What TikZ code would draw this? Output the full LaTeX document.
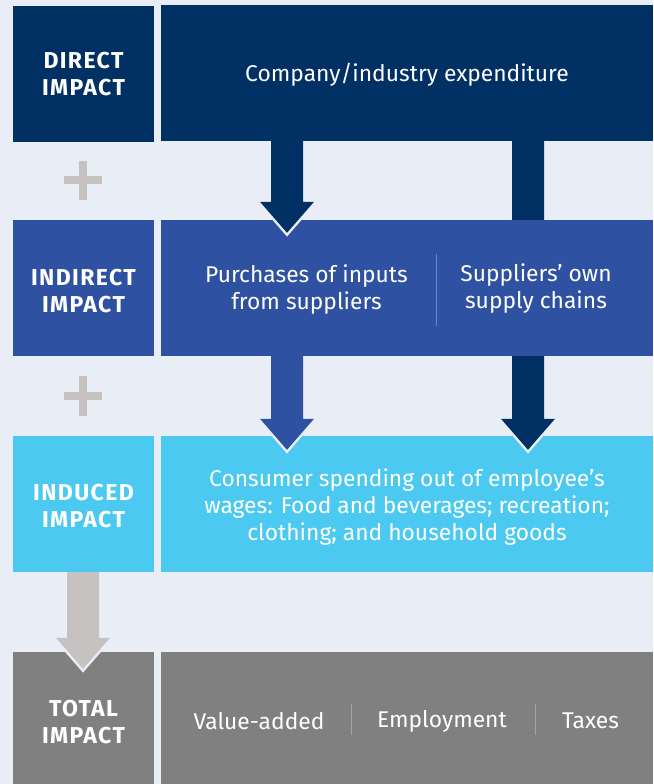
\documentclass[tikz,border=0pt]{standalone}
\usepackage{fontspec}
\setmainfont{Fira Sans}
\usetikzlibrary{calc}
\definecolor{bg}{HTML}{E9EEF6}
\definecolor{navy}{HTML}{003064}
\definecolor{midblue}{HTML}{2E51A2}
\definecolor{cyanb}{HTML}{4BC9F0}
\definecolor{greyb}{HTML}{7F807F}
\definecolor{plusgrey}{HTML}{C6C2C1}
\definecolor{divblue}{HTML}{6A86C4}
\definecolor{divgrey}{HTML}{A2A2A2}
% block arrow: colour, start coordinate, tip coordinate
\newcommand\fatarrow[3]{%
  \draw[bg, line width=5pt, line join=miter] ($(#3)+(-27,-31)$) -- (#3) -- ($(#3)+(27,-31)$);
  \fill[#1] ($(#2)+(-16,0)$) -- ($(#3)+(-16,-31)$) -- ($(#3)+(-27,-31)$) -- (#3)
     -- ($(#3)+(27,-31)$) -- ($(#3)+(16,-31)$) -- ($(#2)+(16,0)$) -- cycle;
}
\newcommand\lblfont{\bfseries\addfontfeatures{LetterSpace=6}\fontsize{23}{27}\selectfont}
\newcommand\txtfont{\fontsize{22.8}{27}\selectfont}
\begin{document}
\begin{tikzpicture}[x=1pt,y=-1pt,
  lbox/.style={minimum width=141pt, minimum height=136pt, inner sep=0pt, text=white,
    font=\lblfont, align=center},
  rbox/.style={minimum width=492pt, minimum height=136pt, inner sep=0pt, text=white,
    font=\txtfont, align=center},
  txt/.style={text=white, font=\txtfont, align=center, inner sep=0pt},
  plus/.style={fill=plusgrey},
]
\fill[bg] (0,0) rectangle (653,784);
\useasboundingbox (0,0) rectangle (653,784);

% row 1 and row 3 boxes
\node[lbox, fill=navy] (l1) at (83.5,74) {DIRECT\\IMPACT};
\node[rbox, fill=navy] (r1) at (407,73) {};
\node[txt] (t1) at (407,75) {Company/industry expenditure};
\node[lbox, fill=cyanb] (l3) at (83.5,504) {};
\node[txt] (t3l) at (83.5,506) {\lblfont INDUCED\\\lblfont IMPACT};
\node[rbox, fill=cyanb] (r3) at (407,504) {};
\node[txt] (t3) at (407,507) {Consumer spending out of employee’s\\wages: Food and beverages; recreation;\\clothing; and household goods};

% long dark arrow (passes behind row 2)
\coordinate (xa) at (528,0);
\coordinate (xb) at (287,0);
\coordinate (xc) at (83,0);
\coordinate (a3s) at (r1.south -| xa);
\coordinate (a3t) at ($(r3.north -| xa)+(0,14)$);
\fatarrow{navy}{a3s}{a3t}

% row 2
\node[lbox, fill=midblue] (l2) at (83.5,288) {};
\node[txt] (t2l) at (83.5,291) {\lblfont INDIRECT\\\lblfont IMPACT};
\node[rbox, fill=midblue] (r2) at (407,288) {};
\node[txt] (t2a) at (306.5,290) {Purchases of inputs\\from suppliers};
\node[txt] (t2b) at (536,289) {Suppliers’ own\\supply chains};
\draw[divblue, line width=1pt] (436,254) -- (436,326);

% row 4
\node[lbox, fill=greyb, minimum height=132pt] (l4) at (83.5,718) {};
\node[txt] (t4l) at (83.5,722) {\lblfont TOTAL\\\lblfont IMPACT};
\node[rbox, fill=greyb, minimum height=132pt] (r4) at (407,718) {};
\node[txt] (t4a) at (259,721) {Value-added};
\node[txt] (t4b) at (442,721) {Employment};
\node[txt] (t4c) at (590.5,721) {Taxes};
\draw[divgrey, line width=1pt] (351,704) -- (351,735);
\draw[divgrey, line width=1pt] (535,704) -- (535,735);

% arrows
\coordinate (a1s) at (r1.south -| xb);
\coordinate (a1t) at ($(r2.north -| xb)+(0,13)$);
\fatarrow{navy}{a1s}{a1t}
\coordinate (a2s) at (r2.south -| xb);
\coordinate (a2t) at ($(r3.north -| xb)+(0,14)$);
\fatarrow{midblue}{a2s}{a2t}
\coordinate (a4s) at (l3.south -| xc);
\coordinate (a4t) at ($(l4.north -| xc)+(0,17)$);
\fatarrow{plusgrey}{a4s}{a4t}

% plus signs
\fill[plus] (64,176) rectangle (102,184);
\fill[plus] (79,161) rectangle (87,200);
\fill[plus] (64,392) rectangle (102,400);
\fill[plus] (79,376) rectangle (87,416);
\end{tikzpicture}
\end{document}
